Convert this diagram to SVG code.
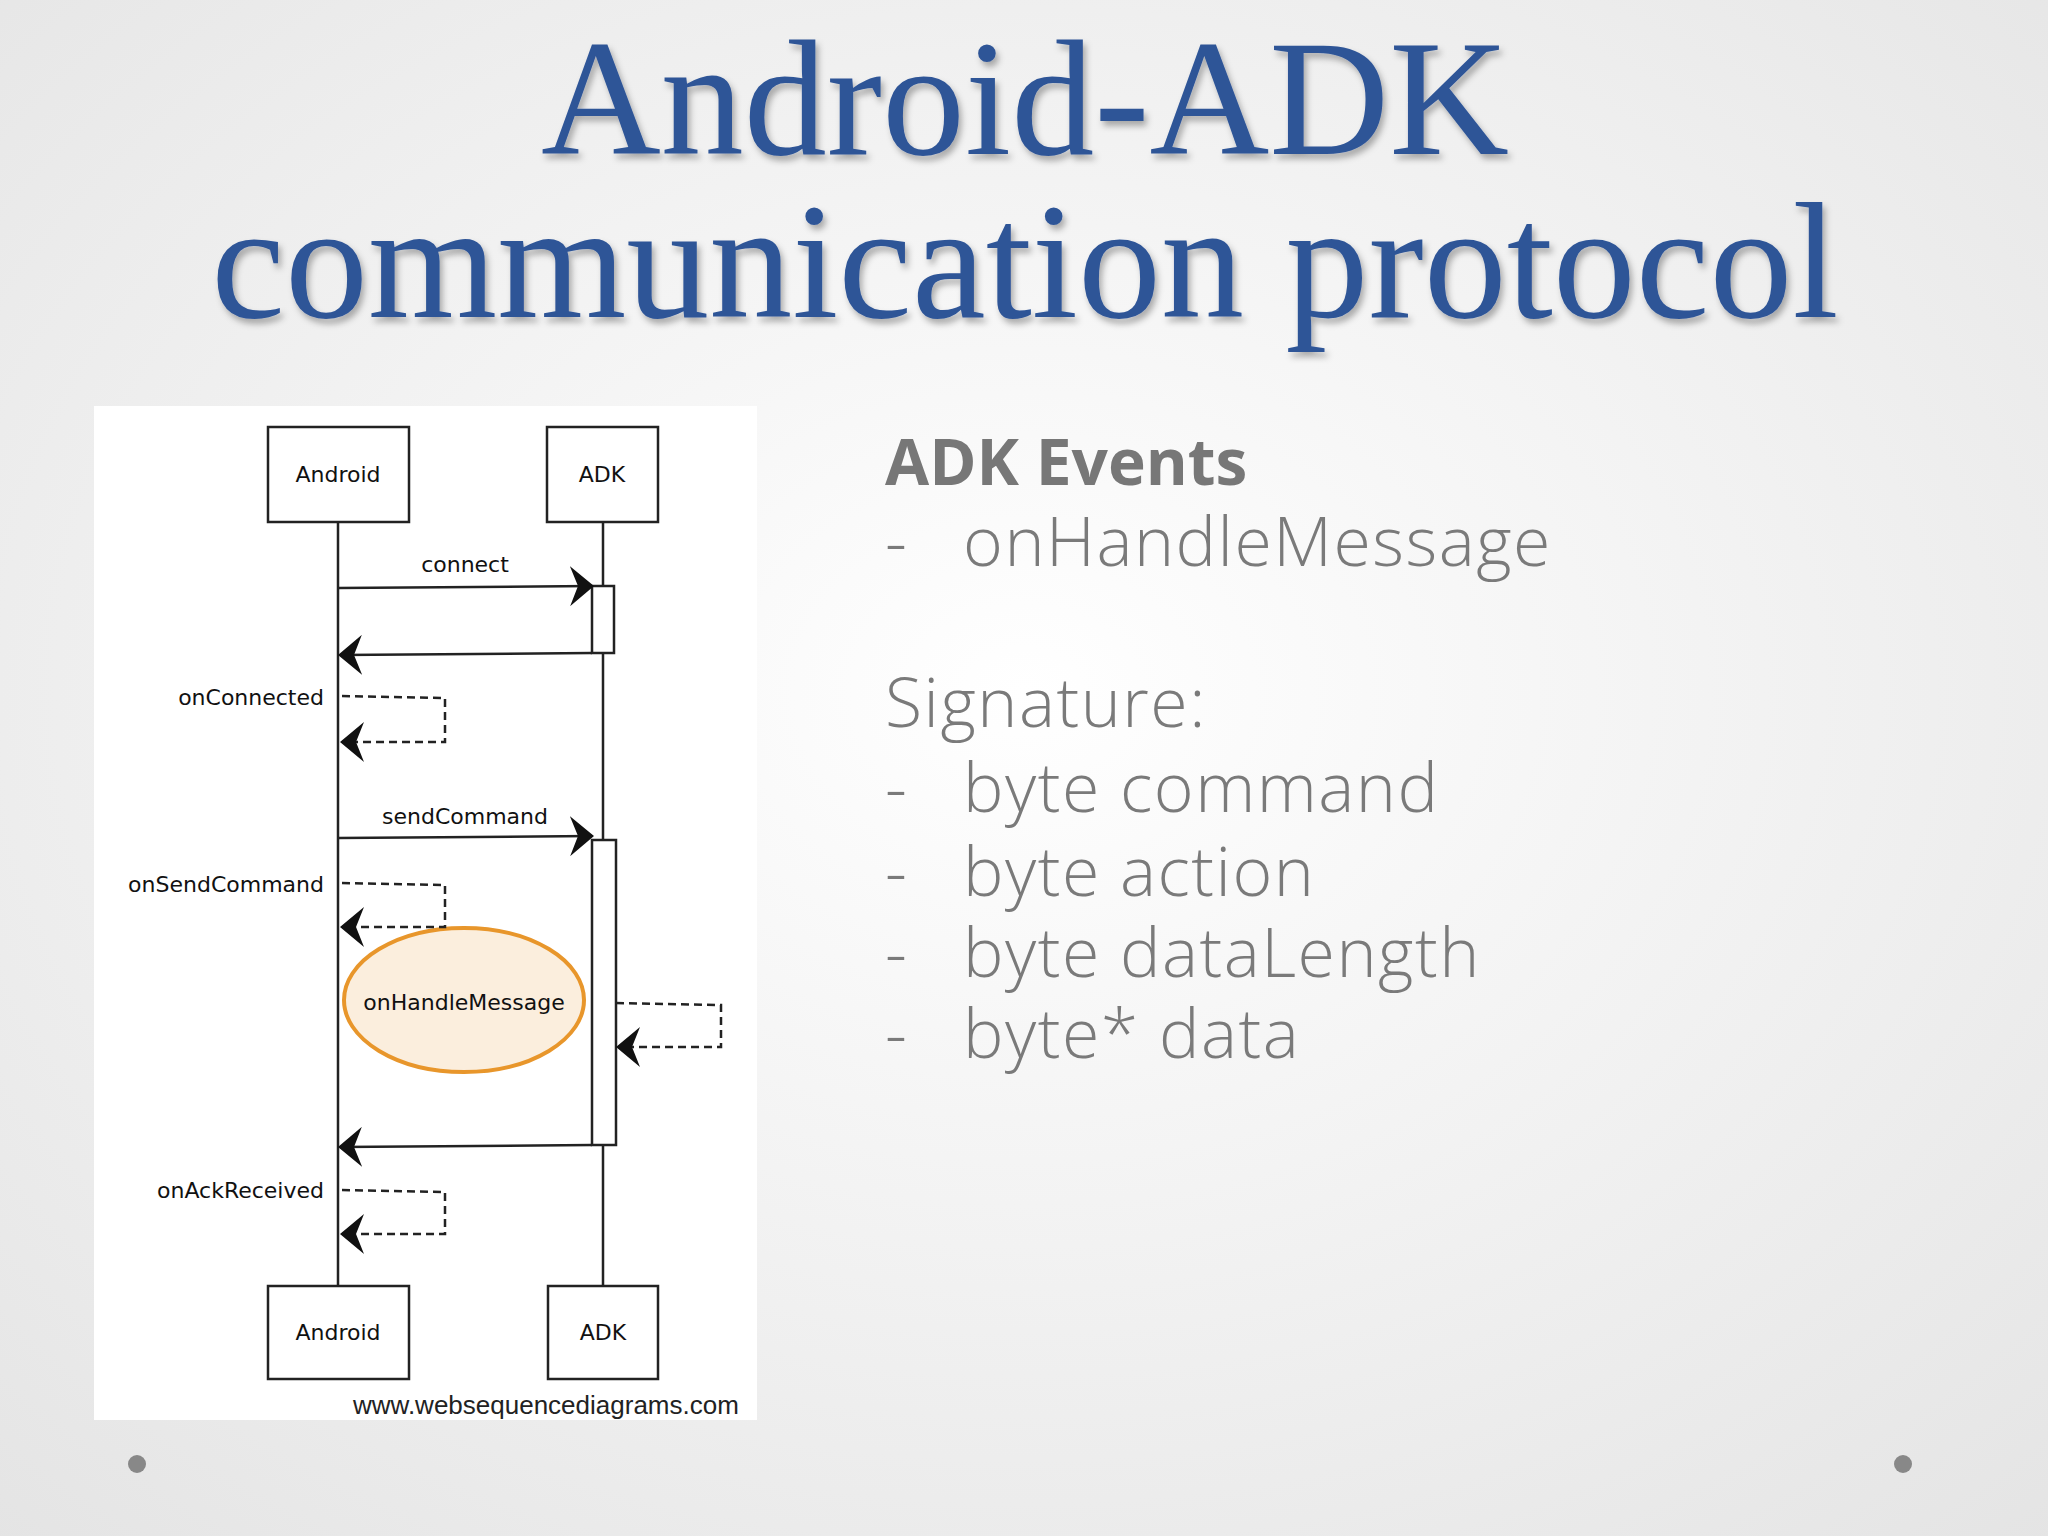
<svg xmlns="http://www.w3.org/2000/svg" width="2048" height="1536" viewBox="0 0 2048 1536">
<defs>
<radialGradient id="bg" cx="50%" cy="45%" r="75%"><stop offset="0" stop-color="#ffffff"/><stop offset="1" stop-color="#e4e4e4"/></radialGradient>
<filter id="sh"><feDropShadow dx="3" dy="5" stdDeviation="3" flood-color="#000" flood-opacity="0.3"/></filter>
<marker id="ah" viewBox="0 0 24 40" refX="22" refY="20" markerWidth="24" markerHeight="40" markerUnits="userSpaceOnUse" orient="auto-start-reverse"><path d="M0,0 L24,20 L0,40 L8,20 Z" fill="#111"/></marker>
<style>
.title{font-family:"Liberation Serif",serif;font-size:166px;fill:#2f5597;text-anchor:middle}
.box{fill:#fff;stroke:#222;stroke-width:2.5}
.hand{font-family:"DejaVu Sans",sans-serif;font-size:22px;fill:#111}
.ln{stroke:#222;stroke-width:2.5;fill:none}
.dash{stroke:#222;stroke-width:2.5;fill:none;stroke-dasharray:8 5}
.side{font-family:"Open Sans",sans-serif;font-weight:300;font-size:68px;fill:#7a7a7a;letter-spacing:1.5px}
</style>
</defs>
<rect width="2048" height="1536" fill="url(#bg)"/>
<g filter="url(#sh)">
<text class="title" x="1025" y="154">Android-ADK</text>
<text class="title" x="1025" y="317">communication protocol</text>
</g>
<rect x="94" y="406" width="663" height="1014" fill="#fff"/>
<g id="lifelines">
<line class="ln" x1="338" y1="522" x2="338" y2="1286"/>
<line class="ln" x1="603" y1="522" x2="603" y2="1286"/>
</g>
<g id="act"><rect class="box" x="592" y="586" width="22" height="67"/><rect class="box" x="592" y="840" width="24" height="305"/></g>
<g id="android-top"><rect class="box" x="268" y="427" width="141" height="95"/><text class="hand" x="338" y="482" text-anchor="middle">Android</text></g>
<g id="adk-top"><rect class="box" x="547" y="427" width="111" height="95"/><text class="hand" x="602" y="482" text-anchor="middle">ADK</text></g>
<g id="android-bot"><rect class="box" x="268" y="1286" width="141" height="93"/><text class="hand" x="338" y="1340" text-anchor="middle">Android</text></g>
<g id="adk-bot"><rect class="box" x="548" y="1286" width="110" height="93"/><text class="hand" x="603" y="1340" text-anchor="middle">ADK</text></g>
<g id="hm"><ellipse cx="464" cy="1000" rx="120" ry="72" fill="#fbeedd" stroke="#e8962b" stroke-width="4"/><text class="hand" x="464" y="1010" text-anchor="middle" fill="#444">onHandleMessage</text></g>
<g id="connectors">
<path class="ln" d="M338,588 L592,586" marker-end="url(#ah)"/>
<path class="ln" d="M592,653 L340,655" marker-end="url(#ah)"/>
<path class="dash" d="M342,696 L445,698 L445,742 L342,742" marker-end="url(#ah)"/>
<path class="ln" d="M338,838 L592,836" marker-end="url(#ah)"/>
<path class="dash" d="M342,883 L445,885 L445,927 L342,927" marker-end="url(#ah)"/>
<path class="dash" d="M616,1003 L721,1005 L721,1047 L618,1047" marker-end="url(#ah)"/>
<path class="ln" d="M592,1145 L340,1147" marker-end="url(#ah)"/>
<path class="dash" d="M342,1190 L445,1192 L445,1234 L342,1234" marker-end="url(#ah)"/>
</g>
<g id="labels">
<text class="hand" x="465" y="572" text-anchor="middle">connect</text>
<text class="hand" x="324" y="705" text-anchor="end">onConnected</text>
<text class="hand" x="465" y="824" text-anchor="middle">sendCommand</text>
<text class="hand" x="324" y="892" text-anchor="end">onSendCommand</text>
<text class="hand" x="324" y="1198" text-anchor="end">onAckReceived</text>
</g>
<text x="353" y="1414" font-family="Liberation Sans,sans-serif" font-size="26" fill="#222">www.websequencediagrams.com</text>
<text x="885" y="485" font-family="Open Sans,sans-serif" font-size="64" font-weight="bold" fill="#777">ADK Events</text>
<text x="885" y="566" class="side">-</text><text x="963" y="566" class="side">onHandleMessage</text>
<text x="885" y="727" class="side">Signature:</text>
<text x="885" y="812" class="side">-</text><text x="963" y="812" class="side">byte command</text>
<text x="885" y="896" class="side">-</text><text x="963" y="896" class="side">byte action</text>
<text x="885" y="977" class="side">-</text><text x="963" y="977" class="side">byte dataLength</text>
<text x="885" y="1058" class="side">-</text><text x="963" y="1058" class="side">byte* data</text>
<circle cx="137" cy="1464" r="9" fill="#888"/>
<circle cx="1903" cy="1464" r="9" fill="#888"/>
</svg>
